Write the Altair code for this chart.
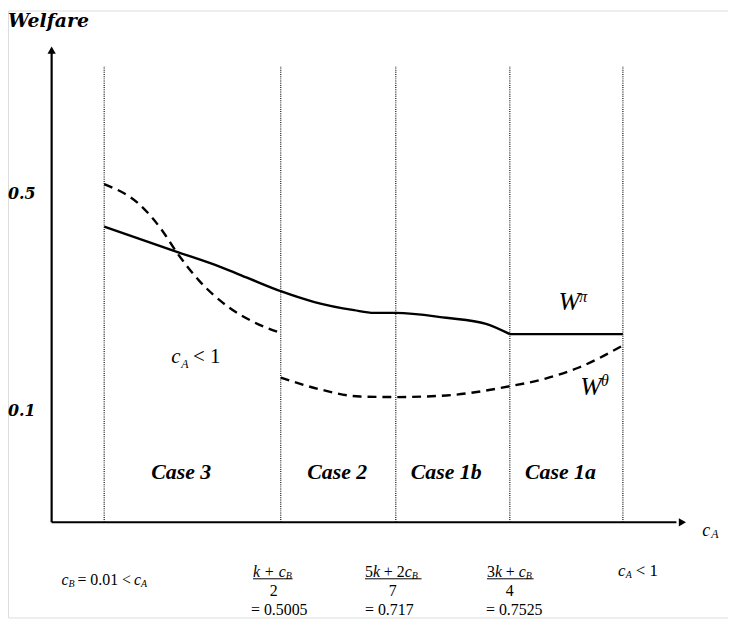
import altair as alt
import pandas as pd

# ---------------- data ----------------
case_bounds = [0.01, 0.5005, 0.717, 0.7525, 1.0]
case_names = ["Case 3", "Case 2", "Case 1b", "Case 1a"]
case_label_c = [0.224, 0.6069, 0.7327, 0.8632]

# W^pi (solid)
pi1_c = [0.01, 0.210, 0.336, 0.410, 0.5005, 0.564, 0.6386, 0.6759, 0.717, 0.7327, 0.7451, 0.7525]
pi1_w = [0.440, 0.394, 0.365, 0.345, 0.321, 0.301, 0.286, 0.281, 0.281, 0.272, 0.261, 0.242]
pi2_c = [0.7525, 1.0]
pi2_w = [0.242, 0.242]

# W^theta (dashed)
th1_c = [0.01, 0.106, 0.172, 0.210, 0.273, 0.355, 0.429, 0.5005]
th1_w = [0.518, 0.482, 0.432, 0.394, 0.341, 0.292, 0.263, 0.244]
th2_c = [0.5005, 0.5752, 0.6498, 0.717, 0.7327, 0.7451, 0.7525, 0.8307, 0.9023, 1.0]
th2_w = [0.162, 0.140, 0.127, 0.126, 0.129, 0.138, 0.146, 0.160, 0.180, 0.221]

y_ticks = [0.5, 0.1]
y_tick_labels = ["0.5", "0.1"]

axis_bottom = -0.1046
axis_top = 0.761
guide_top = 0.7356
x_axis_end = 1.09
arrow_y_w = 0.765
arrow_x_c = 1.1

SERIF = "'Liberation Serif', Tinos, 'Times New Roman', Times, 'Nimbus Roman', FreeSerif, serif"
WIDE = "'DejaVu Serif', serif"

# schematic (piecewise) scales
xscale = alt.Scale(type="linear", domain=[0, 0.01, 0.5005, 0.717, 0.7525, 1.0, 1.1],
                   range=[44, 97, 275, 391, 506, 620, 680], nice=False, zero=False)
yscale = alt.Scale(type="linear", domain=[0.1, 0.5], range=[404, 185], nice=False, zero=False)


def X(f="c"):
    return alt.X(f"{f}:Q", scale=xscale, axis=None)


def Y(f="w"):
    return alt.Y(f"{f}:Q", scale=yscale, axis=None)


layers = []

# dotted case boundaries
guides = pd.DataFrame({"c": case_bounds, "w1": axis_bottom, "w2": guide_top})
layers.append(alt.Chart(guides).mark_rule(color="#222222", strokeWidth=1.3, strokeDash=[1, 1.2])
              .encode(x=X(), y=Y("w1"), y2="w2:Q"))

# curves
curves = pd.concat([
    pd.DataFrame({"c": pi1_c, "w": pi1_w, "seg": "pi1"}),
    pd.DataFrame({"c": pi2_c, "w": pi2_w, "seg": "pi2"}),
])
layers.append(alt.Chart(curves).mark_line(color="black", strokeWidth=2.4, interpolate="monotone")
              .encode(x=X(), y=Y(), detail="seg:N", order="c:Q"))
dashed = pd.concat([
    pd.DataFrame({"c": th1_c, "w": th1_w, "seg": "th1"}),
    pd.DataFrame({"c": th2_c, "w": th2_w, "seg": "th2"}),
])
layers.append(alt.Chart(dashed).mark_line(color="black", strokeWidth=2.4, strokeDash=[9, 6],
                                          interpolate="monotone")
              .encode(x=X(), y=Y(), detail="seg:N", order="c:Q"))

# axes
axes = pd.DataFrame({"c1": [0, 0], "c2": [0, x_axis_end], "w1": [axis_bottom, axis_bottom],
                     "w2": [axis_top, axis_bottom]})
layers.append(alt.Chart(axes).mark_rule(color="black", strokeWidth=2.2)
              .encode(x=X("c1"), x2="c2:Q", y=Y("w1"), y2="w2:Q"))
layers.append(alt.Chart(pd.DataFrame({"c": [0], "w": [arrow_y_w]}))
              .mark_point(shape="triangle-up", filled=True, size=70, color="black", opacity=1)
              .encode(x=X(), y=Y()))
layers.append(alt.Chart(pd.DataFrame({"c": [arrow_x_c], "w": [axis_bottom]}))
              .mark_point(shape="triangle-right", filled=True, size=70, color="black", opacity=1)
              .encode(x=X(), y=Y()))


def piece(text, c, w, dx=0, dy=0, size=16, italic=False, bold=False, font=SERIF, align="left"):
    df = pd.DataFrame({"c": [c], "w": [w], "t": [text]})
    kw = dict(dx=dx, dy=dy, fontSize=size, font=font, align=align, baseline="middle", color="black")
    if italic:
        kw["fontStyle"] = "italic"
    if bold:
        kw["fontWeight"] = "bold"
    return alt.Chart(df).mark_text(**kw).encode(x=X(), y=Y(), text="t:N")


left_c = -0.0083
# y title and tick labels
layers.append(piece("Welfare", left_c, 0.819, size=19, italic=True, bold=True, font=WIDE))
for v, lab in zip(y_ticks, y_tick_labels):
    layers.append(piece(lab, left_c, v, size=16, italic=True, bold=True, font=WIDE))

# case labels
for name, cc in zip(case_names, case_label_c):
    layers.append(piece(name, cc, -0.0114, size=22, italic=True, bold=True, align="center"))

# c_A < 1 in the plot
layers.append(piece("c", 0.1963, 0.2005, size=21, italic=True))
layers.append(piece("A", 0.1963, 0.2005, dx=10, dy=7, size=12, italic=True))
layers.append(piece("< 1", 0.1963, 0.2005, dx=22, size=21))

# curve labels
layers.append(piece("W", 0.8589, 0.3009, size=26, italic=True))
layers.append(piece("π", 0.8589, 0.3009, dx=21, dy=-5, size=16, italic=True))
layers.append(piece("W", 0.9066, 0.1438, size=26, italic=True))
layers.append(piece("θ", 0.9066, 0.1438, dx=21, dy=-6, size=16, italic=True))

# x-axis title c_A
layers.append(piece("c", arrow_x_c, axis_bottom, dx=20, dy=9, size=18, italic=True))
layers.append(piece("A", arrow_x_c, axis_bottom, dx=29, dy=12, size=12, italic=True))

# bottom labels
w_num, w_bar, w_den, w_val, w_cb, w_ca = -0.1959, -0.2087, -0.2306, -0.2671, -0.2105, -0.1941
b0, b1, b2, b3, b4 = case_bounds

layers.append(piece("c", b0, w_cb, dx=-43, size=16, italic=True))
layers.append(piece("B", b0, w_cb, dx=-36, dy=4, size=10, italic=True))
layers.append(piece("= 0.01 <", b0, w_cb, dx=-27, size=16))
layers.append(piece("c", b0, w_cb, dx=30, size=16, italic=True))
layers.append(piece("A", b0, w_cb, dx=37, dy=4, size=10, italic=True))

fractions = [
    (b1, [("k", -28, True), ("+", -16, False), ("c", -2, True)], ("B", 5), (-28, 12), "2", -7, "= 0.5005", -30),
    (b2, [("5", -31, False), ("k", -23, True), ("+", -12, False), ("2", 1, False), ("c", 9, True)], ("B", 16),
     (-31, 26), "7", -3, "= 0.717", -31),
    (b3, [("3", -23, False), ("k", -15, True), ("+", -4, False), ("c", 9, True)], ("B", 16), (-23, 24), "4", 0,
     "= 0.7525", -24),
]
for b, nums, sub, bar, den, den_dx, val, val_dx in fractions:
    for t, dx, it in nums:
        layers.append(piece(t, b, w_num, dx=dx, size=16, italic=it))
    layers.append(piece(sub[0], b, w_num, dx=sub[1], dy=4, size=10, italic=True))
    layers.append(alt.Chart(pd.DataFrame({"c": [b], "w": [w_bar]}))
                  .mark_rule(color="black", strokeWidth=1, xOffset=bar[0], x2Offset=bar[1])
                  .encode(x=X(), x2="c:Q", y=Y(), y2="w:Q"))
    layers.append(piece(den, b, w_den, dx=den_dx, size=16, align="center"))
    layers.append(piece(val, b, w_val, dx=val_dx, size=16))

layers.append(piece("c", b4, w_ca, dx=-5, size=17, italic=True))
layers.append(piece("A", b4, w_ca, dx=3, dy=4, size=10, italic=True))
layers.append(piece("< 1", b4, w_ca, dx=13, size=17))

chart = (alt.layer(*layers)
         .properties(width=726, height=612, autosize=alt.AutoSizeParams(type="none"), padding=0)
         .configure_view(stroke=None)
         .configure(background="white"))

chart.save("out.html", embed_options={"renderer": "svg", "actions": False})
